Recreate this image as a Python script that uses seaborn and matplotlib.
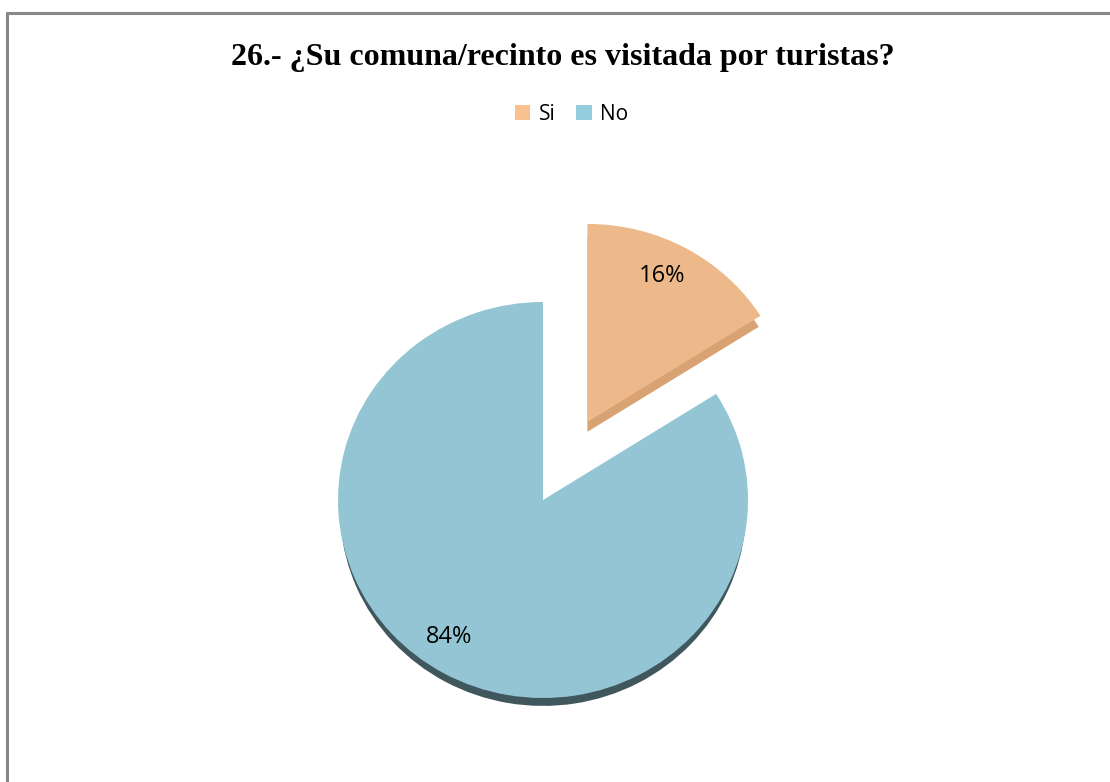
import matplotlib
matplotlib.use("Agg")
import matplotlib.pyplot as plt
import matplotlib.patches as mpatches
from matplotlib.lines import Line2D
import seaborn as sns

sns.set_theme(style="white")

categories = ["Si", "No"]
values = [16, 84]
labels_pct = ["16%", "84%"]
title = "26.- ¿Su comuna/recinto es visitada por turistas?"

face_colors = ["#EDB98A", "#93C5D5"]
side_colors = ["#D9A273", "#3F575D"]
legend_colors = ["#F9C090", "#93CDDD"]
palette = sns.color_palette(face_colors)

W, H = 1110, 782
fig = plt.figure(figsize=(W / 100, H / 100), dpi=100)
fig.patch.set_facecolor("white")

# frame lines (top and left)
fig.add_artist(Line2D([7 / W, 1.0], [1 - 13 / H, 1 - 13 / H], color="#878787", lw=2.2, transform=fig.transFigure))
fig.add_artist(Line2D([7 / W, 7 / W], [0, 1 - 13 / H], color="#878787", lw=2.2, transform=fig.transFigure))

cx, cy, rx, ry = 543, 500, 205, 198
ax = fig.add_axes([(cx - rx) / W, (H - cy - ry) / H, 2 * rx / W, 2 * ry / H])
explode = [0.45, 0.0]

# side / shadow layer
sw, _ = ax.pie(values, explode=explode, startangle=90, counterclock=False,
               colors=side_colors, radius=0.99, center=(0, -0.05),
               wedgeprops=dict(linewidth=0))
# top face
fw, _ = ax.pie(values, explode=explode, startangle=90, counterclock=False,
               colors=list(palette), radius=1.0, center=(0, 0),
               wedgeprops=dict(linewidth=0))
for w in sw + fw:
    w.set_clip_on(False)
ax.set_aspect("auto")
ax.set_xlim(-1, 1)
ax.set_ylim(-1, 1)
ax.axis("off")

# data labels
ax.text(0.58, 1.13, labels_pct[0], ha="center", va="center", fontsize=17,
        family="Open Sans", color="black")
ax.text(-0.46, -0.69, labels_pct[1], ha="center", va="center", fontsize=17,
        family="Open Sans", color="black")

fig.text(0.507, 1 - 57 / H, title, ha="center", va="center", fontsize=23,
         fontweight="bold", family="Liberation Serif", color="black")

handles = [mpatches.Patch(facecolor=c, edgecolor="none", label=l)
           for c, l in zip(legend_colors, categories)]
leg = fig.legend(handles=handles, loc="center", bbox_to_anchor=(0.515, 1 - 114 / H),
                 ncol=2, frameon=False, prop=dict(family="Open Sans", size=15),
                 handlelength=0.75, handleheight=0.75, handletextpad=0.4, columnspacing=1.0)
for t in leg.get_texts():
    t.set_color("black")

fig.savefig("out.png", dpi=100, facecolor="white")
